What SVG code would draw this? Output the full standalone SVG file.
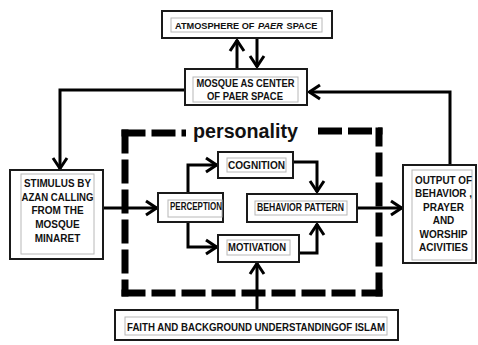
<svg xmlns="http://www.w3.org/2000/svg" width="478" height="345" viewBox="0 0 478 345">
<defs>
<marker id="ah" markerUnits="userSpaceOnUse" markerWidth="16" markerHeight="18" viewBox="0 0 16 18" refX="14" refY="9" orient="auto">
<path d="M3,2 L13.5,9 L3,16" fill="none" stroke="#000" stroke-width="3"/>
</marker>
</defs>
<style>
.ob{fill:#fff;stroke:#1a1a1a;stroke-width:2}
.ib{fill:#fff;stroke:#b8b8b8;stroke-width:1}
.t{font-family:"Liberation Sans",Arial,sans-serif;font-weight:bold;font-size:10px;fill:#111;text-anchor:middle}
.s{text-anchor:start;font-size:9.2px}
.c{fill:none;stroke:#000;stroke-width:3;marker-end:url(#ah)}
.d{fill:none;stroke:#000;stroke-width:7;stroke-dasharray:24 6}
</style>
<rect width="478" height="345" fill="#fff"/>

<g id="personality">
<path class="d" d="M121.5,133 H186"/>
<path class="d" d="M125,129.5 V296.5"/>
<path class="d" d="M121.5,293 H382.5"/>
<path class="d" d="M379,296.5 V127.5"/>
<path class="d" d="M318,131 H382.5"/>
<text x="245.5" y="138" style="font-family:'Liberation Sans',Arial,sans-serif;font-weight:bold;font-size:20px;fill:#111;text-anchor:middle" textLength="105" lengthAdjust="spacingAndGlyphs">personality</text>
</g>

<g id="connectors">
<path class="c" d="M237,68 V40"/>
<path class="c" d="M257,39 V67"/>
<path class="c" d="M185,90 H60 V169"/>
<path class="c" d="M450,165 V92 H309"/>
<path class="c" d="M103,208 H157"/>
<path class="c" d="M188,193 V165 H217"/>
<path class="c" d="M188,222 V247 H217"/>
<path class="c" d="M293,162 H317 V192"/>
<path class="c" d="M299,253 H317 V224"/>
<path class="c" d="M357,208 H402"/>
<path class="c" d="M257,310 V263"/>
</g>

<g id="atmosphere">
<rect class="ob" x="162" y="11" width="170" height="27"/>
<rect class="ib" x="171" y="18" width="151" height="14"/>
<text class="t s" x="175" y="28.5">ATMOSPHERE OF</text>
<text class="t s" x="258" y="28.5" font-style="italic">PAER</text>
<text class="t s" x="286.5" y="28.5">SPACE</text>
</g>

<g id="mosque">
<rect class="ob" x="185" y="69" width="122" height="36"/>
<rect class="ib" x="193" y="77" width="105" height="25"/>
<text class="t" x="245.5" y="87" textLength="98" lengthAdjust="spacingAndGlyphs">MOSQUE AS CENTER</text>
<text class="t" x="245" y="99.5" textLength="76" lengthAdjust="spacingAndGlyphs">OF PAER SPACE</text>
</g>

<g id="stimulus">
<rect class="ob" x="10" y="170" width="93" height="89"/>
<rect class="ib" x="21" y="174" width="73" height="80"/>
<text class="t" x="57.5" y="187" textLength="67" lengthAdjust="spacingAndGlyphs">STIMULUS BY</text>
<text class="t" x="57.5" y="200.5" textLength="72" lengthAdjust="spacingAndGlyphs">AZAN CALLING</text>
<text class="t" x="57.5" y="214">FROM THE</text>
<text class="t" x="57.5" y="228">MOSQUE</text>
<text class="t" x="57.5" y="242">MINARET</text>
</g>

<g id="perception">
<rect class="ob" x="158" y="193" width="65" height="29"/>
<rect class="ib" x="168" y="200" width="54" height="17"/>
<text class="t" x="196" y="210" textLength="52" lengthAdjust="spacingAndGlyphs">PERCEPTION</text>
</g>

<g id="cognition">
<rect class="ob" x="218" y="152" width="75" height="26"/>
<rect class="ib" x="227" y="158" width="59" height="14"/>
<text class="t" x="256.5" y="168.5" textLength="57" lengthAdjust="spacingAndGlyphs">COGNITION</text>
</g>

<g id="behavior">
<rect class="ob" x="247" y="194" width="110" height="28"/>
<rect class="ib" x="255" y="201" width="92" height="14"/>
<text class="t" x="300.5" y="210.5" textLength="87" lengthAdjust="spacingAndGlyphs">BEHAVIOR PATTERN</text>
</g>

<g id="motivation">
<rect class="ob" x="218" y="235" width="81" height="27"/>
<rect class="ib" x="227" y="240" width="63" height="15"/>
<text class="t" x="257" y="250.5" textLength="58" lengthAdjust="spacingAndGlyphs">MOTIVATION</text>
</g>

<g id="output">
<rect class="ob" x="403" y="165" width="73" height="98"/>
<rect class="ib" x="412" y="170" width="60" height="90"/>
<text class="t" x="443.5" y="183.5" textLength="57" lengthAdjust="spacingAndGlyphs">OUTPUT OF</text>
<text class="t" x="443.5" y="197" textLength="57" lengthAdjust="spacingAndGlyphs">BEHAVIOR ,</text>
<text class="t" x="443.5" y="210.5">PRAYER</text>
<text class="t" x="443.5" y="224">AND</text>
<text class="t" x="443.5" y="237.5">WORSHIP</text>
<text class="t" x="443.5" y="251">ACIVITIES</text>
</g>

<g id="faith">
<rect class="ob" x="115" y="310" width="283" height="30"/>
<rect class="ib" x="125" y="317" width="262" height="18"/>
<text class="t" x="256" y="331" textLength="258" lengthAdjust="spacingAndGlyphs">FAITH AND BACKGROUND UNDERSTANDINGOF ISLAM</text>
</g>
</svg>
